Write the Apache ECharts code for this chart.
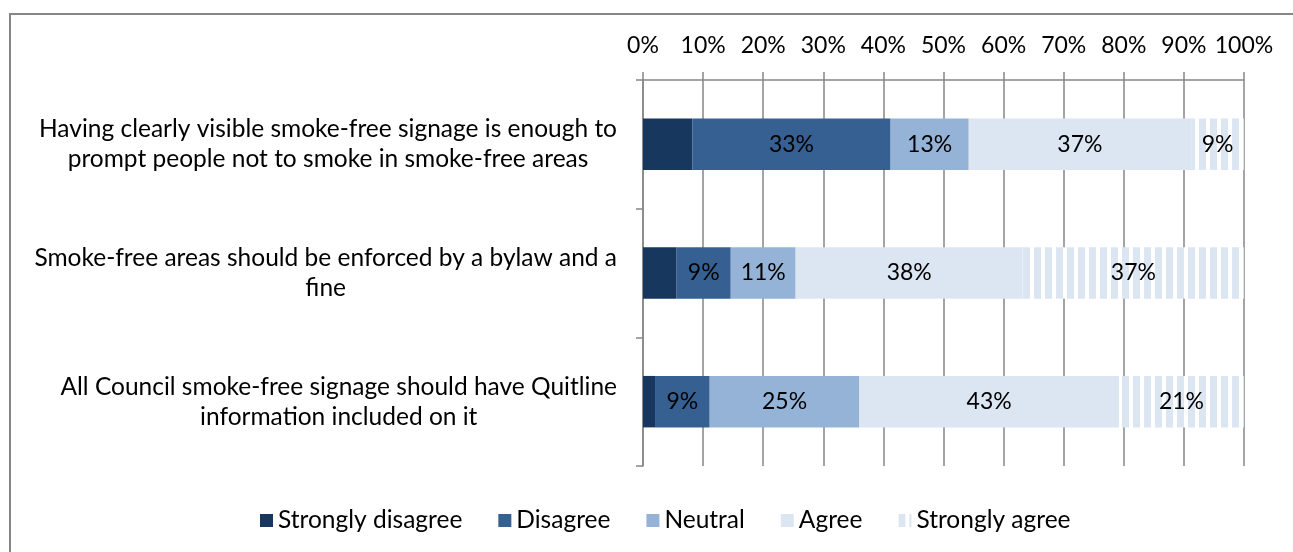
<!DOCTYPE html>
<html><head><meta charset="utf-8">
<script src="https://cdn.jsdelivr.net/npm/echarts@6/dist/echarts.min.js"></script>
<style>html,body{margin:0;padding:0;background:#fff}#c{width:1293px;height:552px}</style>
</head><body><div id="c"></div>
<script>
const categories = [
  "Having clearly visible smoke-free signage is enough to\nprompt people not to smoke in smoke-free areas",
  "Smoke-free areas should be enforced by a bylaw and a\nfine",
  "All Council smoke-free signage should have Quitline\ninformation included on it"
];
const seriesNames = ["Strongly disagree", "Disagree", "Neutral", "Agree", "Strongly agree"];
const stronglyDisagree = [8.2, 5.6, 2.0];
const disagree = [33.0, 9.0, 9.1];
const neutral = [13.0, 10.8, 24.9];
const agree = [37.0, 37.8, 43.2];
const stronglyAgree = [8.8, 36.8, 20.8];
const tickLabels = ["0%","10%","20%","30%","40%","50%","60%","70%","80%","90%","100%"];

const FONT = 'Lato';
function stripe(){
  const cv = document.createElement('canvas');
  cv.width = 11; cv.height = 11;
  const g = cv.getContext('2d');
  g.fillStyle = '#ffffff'; g.fillRect(0,0,11,11);
  g.fillStyle = '#DCE6F2'; g.fillRect(0,0,7,11);
  return cv;
}
const colors = ['#17375E', '#366092', '#95B3D7', '#DCE6F2', {image: stripe(), repeat: 'repeat'}];
const values = [stronglyDisagree, disagree, neutral, agree, stronglyAgree];

const chart = echarts.init(document.getElementById('c'), null, {renderer: 'canvas'});
chart.setOption({
  animation: false,
  textStyle: {fontFamily: FONT},
  graphic: [{type: 'rect', shape: {x: 10, y: 14, width: 1400, height: 700},
    style: {fill: 'none', stroke: '#868686', lineWidth: 2}, silent: true}],
  grid: {left: 643, right: 49, top: 80, bottom: 86, containLabel: false},
  xAxis: {
    type: 'value', position: 'top', min: 0, max: 100, interval: 10,
    axisLine: {show: true, lineStyle: {color: '#868686', width: 1.5}},
    axisTick: {show: true, length: 8, lineStyle: {color: '#868686', width: 1.5}},
    splitLine: {show: true, lineStyle: {color: '#868686', width: 1.5}},
    axisLabel: {fontSize: 23, color: '#000', fontFamily: FONT, margin: 23,
      formatter: (v) => tickLabels[Math.round(v / 10)]}
  },
  yAxis: {
    type: 'category', inverse: true, data: categories,
    axisLine: {show: true, lineStyle: {color: '#868686', width: 1.5}},
    axisTick: {show: true, length: 7, lineStyle: {color: '#868686', width: 1.5}},
    axisLabel: {fontSize: 24.5, color: '#000', fontFamily: FONT, margin: 26, lineHeight: 30, align: 'right',
      formatter: (v) => v.split('\n').map(l => '{c|' + l + '}').join('\n'),
      rich: {c: {align: 'center', fontSize: 24.5, lineHeight: 30, color: '#000', fontFamily: FONT}}}
  },
  legend: {
    left: 255, top: 503, itemWidth: 13, itemHeight: 13, itemGap: 36, icon: 'rect',
    textStyle: {fontSize: 24.5, color: '#000', fontFamily: FONT},
    data: seriesNames
  },
  series: seriesNames.map((n, i) => ({
    name: n, type: 'bar', stack: 'all', barWidth: '40%', data: values[i],
    itemStyle: {color: colors[i]},
    label: {show: i > 0, position: 'inside', fontSize: 23, color: '#000', fontFamily: FONT,
      formatter: (p) => Math.round(p.value) + '%'}
  }))
});
</script></body></html>
